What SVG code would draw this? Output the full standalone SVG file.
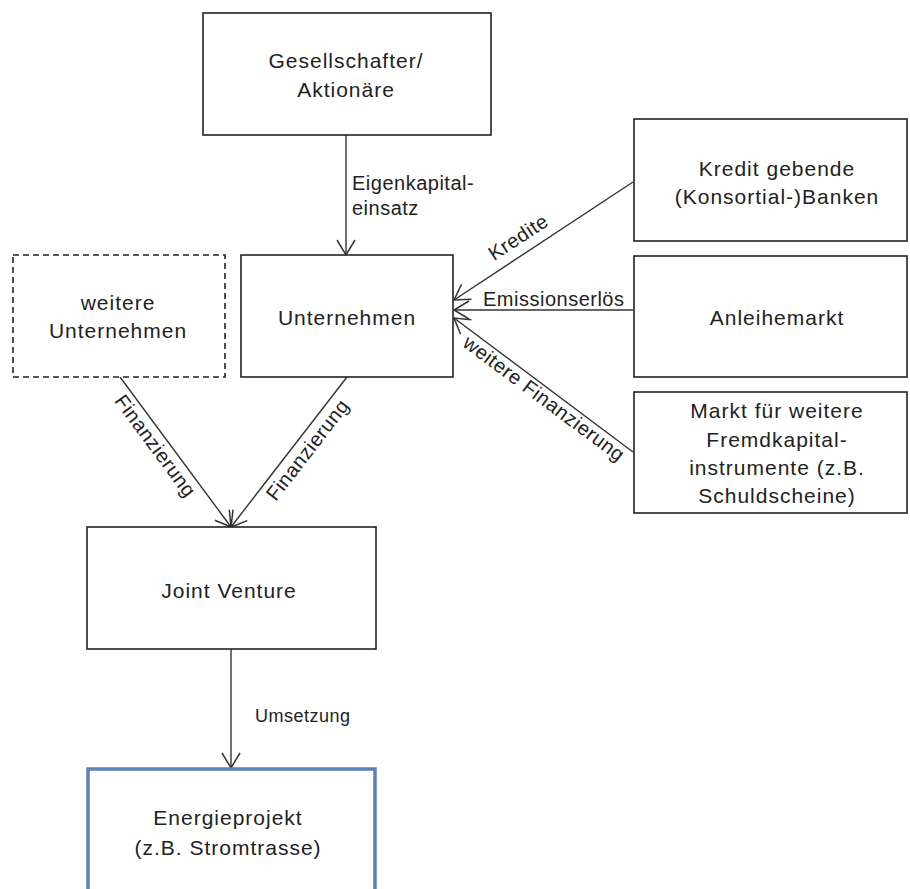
<svg xmlns="http://www.w3.org/2000/svg" width="910" height="889" viewBox="0 0 910 889">
<style>
.box{fill:#fff;stroke:#222;stroke-width:1.6}
.dash{fill:#fff;stroke:#222;stroke-width:1.6;stroke-dasharray:6 4}
.blue{fill:#fff;stroke:#5a82b3;stroke-width:3.5}
.nt{font-family:"Liberation Sans",Arial,sans-serif;font-size:21px;letter-spacing:1px;fill:#222;text-anchor:middle}
.lb{font-family:"Liberation Sans",Arial,sans-serif;font-size:20px;letter-spacing:0.5px;fill:#222}
.ln{stroke:#333;stroke-width:1.4;fill:none;marker-end:url(#ah)}
</style>
<defs>
<marker id="ah" markerUnits="userSpaceOnUse" viewBox="-17 -10 19 20" refX="0" refY="0" markerWidth="19" markerHeight="20" orient="auto">
<path d="M-15,-9 L0,0 L-15,9" fill="none" stroke="#333" stroke-width="1.5"/>
</marker>
</defs>
<rect width="910" height="889" fill="#fff"/>
<g id="connectors">
<line class="ln" x1="346" y1="135" x2="346" y2="255"/>
<line class="ln" x1="633" y1="182" x2="454" y2="300"/>
<line class="ln" x1="633" y1="310" x2="454" y2="310"/>
<line class="ln" x1="633" y1="452" x2="454" y2="318"/>
<line class="ln" x1="120" y1="377" x2="231" y2="527"/>
<line class="ln" x1="347" y1="377" x2="231" y2="527"/>
<line class="ln" x1="231" y1="649" x2="231" y2="768"/>
<text class="lb" x="352" y="190">Eigenkapital-</text>
<text class="lb" x="352" y="215">einsatz</text>
<text class="lb" text-anchor="middle" transform="translate(522,243) rotate(-33.2)">Kredite</text>
<text class="lb" x="483" y="306">Emissionserlös</text>
<text class="lb" text-anchor="middle" transform="translate(540,404) rotate(36.7)">weitere Finanzierung</text>
<text class="lb" text-anchor="middle" transform="translate(150,450) rotate(53.5)">Finanzierung</text>
<text class="lb" text-anchor="middle" transform="translate(313,454) rotate(-52.3)">Finanzierung</text>
<text class="lb" x="255" y="722" style="font-size:18px">Umsetzung</text>
</g>
<g id="gesellschafter">
<rect class="box" x="203" y="13" width="288" height="122"/>
<text class="nt" x="346" y="68">Gesellschafter/</text>
<text class="nt" x="346" y="97">Aktionäre</text>
</g>
<g id="unternehmen">
<rect class="box" x="241" y="255" width="212" height="122"/>
<text class="nt" x="347" y="325">Unternehmen</text>
</g>
<g id="weitere-unternehmen">
<rect class="dash" x="13" y="255" width="212" height="122"/>
<text class="nt" x="118" y="310">weitere</text>
<text class="nt" x="118" y="338">Unternehmen</text>
</g>
<g id="joint-venture">
<rect class="box" x="87" y="527" width="289" height="122"/>
<text class="nt" x="229" y="598">Joint Venture</text>
</g>
<g id="energieprojekt">
<rect class="blue" x="88" y="769" width="287" height="130"/>
<text class="nt" x="228" y="825">Energieprojekt</text>
<text class="nt" x="228" y="855">(z.B. Stromtrasse)</text>
</g>
<g id="banken">
<rect class="box" x="634" y="119" width="273" height="122"/>
<text class="nt" x="777" y="176">Kredit gebende</text>
<text class="nt" x="777" y="204">(Konsortial-)Banken</text>
</g>
<g id="anleihemarkt">
<rect class="box" x="634" y="256" width="273" height="121"/>
<text class="nt" x="777" y="325">Anleihemarkt</text>
</g>
<g id="markt">
<rect class="box" x="634" y="392" width="273" height="121"/>
<text class="nt" x="777" y="418">Markt für weitere</text>
<text class="nt" x="777" y="447">Fremdkapital-</text>
<text class="nt" x="777" y="475">instrumente (z.B.</text>
<text class="nt" x="777" y="503">Schuldscheine)</text>
</g>
</svg>
